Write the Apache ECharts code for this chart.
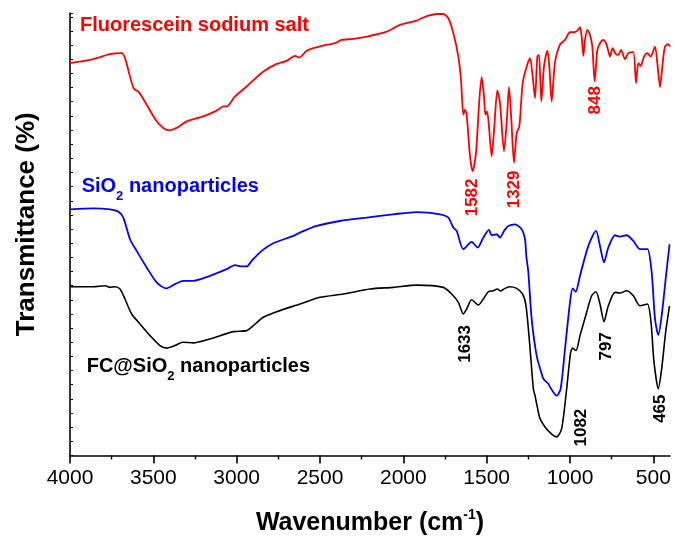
<!DOCTYPE html>
<html><head><meta charset="utf-8">
<script src="https://cdn.jsdelivr.net/npm/echarts@6/dist/echarts.min.js"></script>
<style>html,body{margin:0;padding:0;background:#fff}#c{width:675px;height:541px}</style>
</head><body><div id="c"></div>
<script>
// ---- data (wavenumber cm-1, transmittance in arbitrary offset units) ----
const xTickValues = [500, 1000, 1500, 2000, 2500, 3000, 3500, 4000];
const xMinorTickValues = [750, 1250, 1750, 2250, 2750, 3250, 3750];

const fluorescein = [
[4000,393.7],[3860,397.7],[3760,402.7],[3690,403.7],[3670,398.7],[3640,380.3],[3616,367.7],[3590,365.3],
[3540,352],[3480,335.3],[3440,328.7],[3404,326.3],[3360,328.7],[3300,335.3],[3200,340.3],[3120,346],
[3080,350.3],[3060,350.3],[3010,360.3],[2940,370.3],[2840,385.3],[2760,393],[2700,396],[2650,401],
[2624,399.3],[2580,406],[2540,408.7],[2460,412],[2410,413.7],[2370,417],[2300,418],[2220,420.3],
[2100,425.3],[2020,432],[1920,436.3],[1890,438.7],[1850,441.3],[1800,443],[1760,443],[1730,438.7],
[1700,423.7],[1670,400.3],[1654,377],[1640,342],[1630,347],[1620,342],[1600,300.3],[1584,285.3],
[1564,303.7],[1544,357],[1530,379.7],[1516,360.3],[1508,342],[1498,345.3],[1488,333.7],[1470,300.3],
[1454,330.3],[1436,366.3],[1420,353.7],[1396,305.3],[1380,333.7],[1366,369.7],[1352,337],[1336,293.7],
[1320,323.7],[1304,330.3],[1284,373.7],[1260,390.3],[1240,398.7],[1224,380.3],[1210,358.7],[1196,400.3],
[1186,402],[1172,355.3],[1156,390.3],[1136,406.3],[1124,390.3],[1110,355.3],[1090,395],[1060,412.5],
[1030,417],[1000,424.7],[974,424.7],[956,426.3],[940,429.7],[930,420.3],[920,401],[910,417],
[896,427],[880,422],[866,410.3],[852,375.3],[836,407],[820,413.7],[800,417],[780,412],
[760,400.3],[744,408.7],[726,403],[710,402],[694,407],[670,397.7],[650,403.7],[620,404.7],
[604,373.7],[590,393.7],[576,391],[556,400.3],[536,403.7],[516,400.3],[490,410.3],[474,390.3],
[460,369.7],[444,393.7],[430,410.3],[410,412.7],[400,410.3]
];

const sio2 = [
[4000,247],[3860,248],[3760,247],[3710,244.7],[3680,238.7],[3640,217],[3600,205.3],[3540,188.7],
[3480,173.7],[3424,167.7],[3370,172],[3320,175.3],[3260,175.3],[3160,180.3],[3060,187],[3010,191],
[2970,189.7],[2940,189.7],[2910,195.3],[2850,205.3],[2780,213],[2660,220.3],[2620,223.7],[2520,230.3],
[2380,235.3],[2220,238.7],[2060,242],[1920,244.3],[1780,242],[1730,238.7],[1700,228.7],[1680,225.3],
[1640,207],[1590,214.3],[1554,208.7],[1520,218.7],[1486,226.3],[1470,221],[1440,222],[1420,218.7],
[1396,225.3],[1370,230.3],[1330,232],[1290,227],[1270,217],[1262,200],[1250,184],[1230,137],
[1200,100],[1170,82],[1160,77],[1130,72],[1120,68.7],[1080,60],[1056,67],[1030,107],
[1000,153.7],[984,167.7],[966,164.3],[940,180.3],[890,210.3],[844,225.3],[820,210.3],[796,193.7],
[770,208.7],[730,221],[700,219.7],[660,221],[620,215.3],[580,207],[536,207],[510,183.7],
[490,137],[470,121],[450,140.3],[424,180.3],[406,207],[403,212]
];

const fcSio2 = [
[4000,169.3],[3860,169.3],[3790,170.3],[3760,168.7],[3730,169.3],[3700,167],[3670,157],[3630,142],
[3580,132],[3520,120.3],[3460,110.3],[3420,107.7],[3370,110.3],[3324,113.7],[3260,113],[3160,117],
[3020,124.3],[2940,125.3],[2900,130.3],[2840,138.7],[2760,144.3],[2620,152],[2500,158.7],[2360,162],
[2200,167],[2060,168.7],[1920,171],[1760,168.7],[1710,162],[1670,153.7],[1640,142],[1620,147],
[1590,156.3],[1550,151],[1520,157],[1490,164.3],[1460,165.3],[1436,167],[1416,165],[1390,167.7],
[1364,169.3],[1320,167.7],[1284,162],[1264,150.3],[1242,112],[1220,67],[1210,60],[1190,43.7],
[1180,37],[1150,28.7],[1110,21.5],[1080,18.7],[1050,27],[1020,67],[996,103.7],[984,107.7],
[964,105.3],[940,120.3],[900,143.7],[870,160.3],[844,164.3],[820,152],[796,134.3],[770,150.3],
[730,163.7],[700,163],[660,165.3],[620,160.3],[580,150.3],[536,152],[514,133.7],[496,93.7],
[470,67],[450,87],[426,123.7],[406,147],[403,150]
];

const seriesNames = ['Fluorescein sodium salt', 'SiO2 nanoparticles', 'FC@SiO2 nanoparticles'];
const seriesColors = ['#ff0000', '#0000ff', '#000000'];

// annotation texts with their anchor in data coordinates
const curveLabels = [
  {a: 'Fluorescein sodium salt', s: '', b: '', at: [3940, 431], color: '#ff0000'},
  {a: 'SiO', s: '2', b: ' nanoparticles', at: [3930, 269.5], color: '#0000ff'},
  {a: 'FC@SiO', s: '2', b: ' nanoparticles', at: [3900, 89], color: '#000000'}
];
const peakLabels = [
  {text: '1582', at: [1588, 259], color: '#ff0000'},
  {text: '1329', at: [1336, 267], color: '#ff0000'},
  {text: '848',  at: [850, 356.5], color: '#ff0000'},
  {text: '1633', at: [1626, 112], color: '#000000'},
  {text: '1082', at: [930, 28], color: '#000000'},
  {text: '797',  at: [780, 109.5], color: '#000000'},
  {text: '465',  at: [456, 47], color: '#000000'}
];

const FONT = "'Liberation Sans', Arial, sans-serif";
const chart = echarts.init(document.getElementById('c'), null, {renderer: 'canvas'});

const lineSeries = [fluorescein, sio2, fcSio2].map((d, i) => ({
  type: 'line', name: seriesNames[i], data: d, showSymbol: false, smooth: 0.25,
  lineStyle: {color: seriesColors[i], width: i === 2 ? 1.6 : 1.8}, z: 3, silent: true
}));

function richFor(color) {
  return {
    a: {fontFamily: FONT, fontWeight: 'bold', fontSize: 20, lineHeight: 32, verticalAlign: 'middle', color: color, textBorderWidth: 0},
    s: {fontFamily: FONT, fontWeight: 'bold', fontSize: 13, lineHeight: 14, verticalAlign: 'bottom', color: color, textBorderWidth: 0}
  };
}

const curveLabelSeries = {
  type: 'scatter', symbolSize: 0, silent: true, z: 6, clip: false,
  data: curveLabels.map(l => ({
    value: l.at,
    label: {
      formatter: '{a|' + l.a + '}' + (l.s ? '{s|' + l.s + '}' : '') + (l.b ? '{a|' + l.b + '}' : ''),
      color: l.color, rich: richFor(l.color)
    }
  })),
  label: {
    show: true, position: 'inside', align: 'left', verticalAlign: 'middle',
    fontFamily: FONT, fontWeight: 'bold', fontSize: 20, textBorderWidth: 0, textShadowBlur: 0, opacity: 1
  }
};

const peakLabelSeries = {
  type: 'scatter', symbolSize: 0, silent: true, z: 6, clip: false,
  data: peakLabels.map(l => ({value: l.at, label: {formatter: l.text, color: l.color}})),
  label: {
    show: true, position: 'inside', rotate: 90, align: 'center', verticalAlign: 'middle',
    fontFamily: FONT, fontWeight: 'bold', fontSize: 17, textBorderWidth: 0, textShadowBlur: 0, opacity: 1
  }
};

chart.setOption({
  animation: false,
  backgroundColor: '#ffffff',
  grid: {left: 70, right: 5, top: 13, bottom: 84, containLabel: false},
  xAxis: [{
    type: 'value', min: 400, max: 4000, inverse: true, position: 'bottom',
    axisLine: {show: true, onZero: false, lineStyle: {color: '#000', width: 1.6}},
    axisTick: {show: true, customValues: xTickValues, length: 8, inside: false, lineStyle: {color: '#000', width: 1.6}},
    axisLabel: {show: true, customValues: xTickValues, color: '#000', fontFamily: FONT, fontSize: 21, margin: 12,
      formatter: v => String(v)},
    splitLine: {show: false},
    name: '{a|Wavenumber (cm}{s|-1}{a|)}', nameLocation: 'middle', nameGap: 53,
    nameTextStyle: {
      color: '#000',
      rich: {
        a: {fontFamily: FONT, fontWeight: 'bold', fontSize: 25, lineHeight: 30, color: '#000', verticalAlign: 'middle'},
        s: {fontFamily: FONT, fontWeight: 'bold', fontSize: 14, lineHeight: 14, color: '#000', verticalAlign: 'top'}
      }
    }
  }, {
    type: 'value', min: 400, max: 4000, inverse: true, position: 'bottom', offset: 0,
    axisLine: {show: false},
    axisTick: {show: true, customValues: xMinorTickValues, length: 4, inside: false, lineStyle: {color: '#000', width: 1.4}},
    axisLabel: {show: false},
    splitLine: {show: false}
  }],
  yAxis: {
    type: 'value', min: 0, max: 444, interval: 14.2,
    axisLine: {show: true, onZero: false, lineStyle: {color: '#000', width: 1.6}},
    axisTick: {show: true, inside: true, length: 3, lineStyle: {color: '#000', width: 1}},
    axisLabel: {show: false},
    splitLine: {show: false},
    name: 'Transmittance (%)', nameLocation: 'middle', nameGap: 30, nameRotate: 90,
    nameTextStyle: {color: '#000', fontFamily: FONT, fontWeight: 'bold', fontSize: 26, padding: [0, 0, 0, 20]}
  },
  series: [...lineSeries, curveLabelSeries, peakLabelSeries]
});
</script>
</body></html>
